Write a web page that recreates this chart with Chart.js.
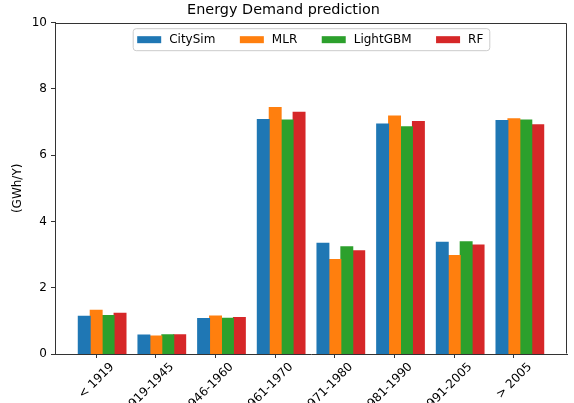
<!DOCTYPE html>
<html>
<head>
<meta charset="utf-8">
<script src="https://cdn.jsdelivr.net/npm/chart.js@4"></script>
<style>
  html, body { margin: 0; padding: 0; background: #fff; }
  #wrap { width: 574px; height: 403px; }
</style>
</head>
<body>
<div id="wrap"><canvas id="energyChart" width="574" height="403"></canvas></div>
<script>
// Data
const categories = ['< 1919', '1919-1945', '1946-1960', '1961-1970', '1971-1980', '1981-1990', '1991-2005', '> 2005'];
const citySim = [1.14, 0.57, 1.07, 7.08, 3.34, 6.94, 3.37, 7.05];
const mlr = [1.32, 0.54, 1.15, 7.44, 2.85, 7.18, 2.97, 7.10];
const lightGbm = [1.16, 0.58, 1.08, 7.06, 3.24, 6.86, 3.39, 7.06];
const rf = [1.23, 0.58, 1.10, 7.30, 3.12, 7.02, 3.29, 6.92];
const yTicks = [0, 2, 4, 6, 8, 10];

// the tick sits under the 2nd bar of each group, so the group centre is shifted by half a bar
const GROUP_SHIFT = 0.1;
const FONT = 'DejaVu Sans';
const AXIS_COLOR = '#333';

function toPoints(values) {
    return values.map((v, i) => ({ x: i + GROUP_SHIFT, y: v }));
}

/**
 * Draws the top/right spines so the axes form a closed box
 */
const frameBox = {
    id: 'frameBox',
    afterDraw(chart) {
        const { ctx, chartArea: a } = chart;
        const l = Math.round(a.left) + 0.5, r = Math.round(a.right) - 0.5;
        const t = Math.round(a.top) + 0.5, b = Math.round(a.bottom) - 0.5;
        ctx.save();
        ctx.strokeStyle = AXIS_COLOR;
        ctx.lineWidth = 1;
        ctx.beginPath();
        ctx.moveTo(l, t);
        ctx.lineTo(r, t);
        ctx.lineTo(r, b);
        ctx.stroke();
        ctx.restore();
    }
};

/**
 * Legend drawn inside the axes, upper centre, with a framed box
 */
const innerLegend = {
    id: 'innerLegend',
    afterDraw(chart) {
        const { ctx, chartArea: a } = chart;
        const sets = chart.data.datasets;
        const swW = 24, swH = 7, gapText = 8, colGap = 24.5, padL = 4.5, padR = 6;
        ctx.save();
        ctx.font = '12px "' + FONT + '"';
        const widths = sets.map(ds => swW + gapText + ctx.measureText(ds.label).width);
        const total = padL + widths.reduce((s, w) => s + w, 0) + colGap * (sets.length - 1) + padR;
        const left = (a.left + a.right) / 2 - total / 2;
        const top = a.top + 5.5;
        const h = 22;

        // frame
        ctx.beginPath();
        ctx.roundRect(left + 0.5, top + 0.5, total, h, 3);
        ctx.fillStyle = 'rgba(255,255,255,0.8)';
        ctx.fill();
        ctx.strokeStyle = '#cccccc';
        ctx.lineWidth = 1;
        ctx.stroke();

        let x = left + padL;
        const cy = top + h / 2 + 0.5;
        ctx.textBaseline = 'middle';
        ctx.textAlign = 'left';
        sets.forEach((ds, i) => {
            ctx.fillStyle = ds.backgroundColor;
            ctx.fillRect(x, cy - swH / 2, swW, swH);
            ctx.fillStyle = '#000';
            ctx.fillText(ds.label, x + swW + gapText, cy);
            x += widths[i] + colGap;
        });
        ctx.restore();
    }
};

new Chart(document.getElementById('energyChart'), {
    type: 'bar',
    data: {
        datasets: [
            { label: 'CitySim', data: toPoints(citySim), backgroundColor: '#1f77b4' },
            { label: 'MLR', data: toPoints(mlr), backgroundColor: '#ff7f0e' },
            { label: 'LightGBM', data: toPoints(lightGbm), backgroundColor: '#2ca02c' },
            { label: 'RF', data: toPoints(rf), backgroundColor: '#d62728' }
        ]
    },
    options: {
        responsive: false,
        animation: false,
        devicePixelRatio: 1,
        layout: { padding: { left: 0, right: 7, top: 0, bottom: 0 } },
        datasets: {
            bar: {
                categoryPercentage: 0.8,
                barPercentage: 1.0,
                borderWidth: 0,
                inflateAmount: 0.5
            }
        },
        plugins: {
            legend: { display: false },
            tooltip: { enabled: false },
            title: {
                display: true,
                text: 'Energy Demand prediction',
                color: '#000',
                font: { family: FONT, size: 14.4, weight: 'normal' },
                padding: { top: 2, bottom: 3.4 }
            }
        },
        scales: {
            x: {
                type: 'linear',
                offset: false,
                min: -0.69,
                max: 7.89,
                afterBuildTicks: (scale) => {
                    scale.ticks = categories.map((c, i) => ({ value: i }));
                },
                afterFit: (scale) => { scale.height = 49; },
                ticks: {
                    autoSkip: false,
                    minRotation: 45,
                    maxRotation: 45,
                    labelOffset: 16,
                    padding: 2,
                    color: '#000',
                    font: { family: FONT, size: 12 },
                    callback: (value, index) => categories[index]
                },
                grid: {
                    offset: false,
                    drawOnChartArea: false,
                    drawTicks: true,
                    tickLength: 4,
                    color: AXIS_COLOR
                },
                border: { display: true, color: AXIS_COLOR, width: 1 }
            },
            y: {
                min: 0,
                max: 10,
                afterBuildTicks: (scale) => {
                    scale.ticks = yTicks.map(v => ({ value: v }));
                },
                afterFit: (scale) => { scale.width = 55; },
                ticks: {
                    padding: 4,
                    color: '#000',
                    font: { family: FONT, size: 12 }
                },
                grid: {
                    drawOnChartArea: false,
                    drawTicks: true,
                    tickLength: 4,
                    color: AXIS_COLOR
                },
                border: { display: true, color: AXIS_COLOR, width: 1 },
                title: {
                    display: true,
                    text: '(GWh/Y)',
                    color: '#000',
                    font: { family: FONT, size: 12 },
                    padding: { top: 11, bottom: 4 }
                }
            }
        }
    },
    plugins: [frameBox, innerLegend]
});
</script>
</body>
</html>
